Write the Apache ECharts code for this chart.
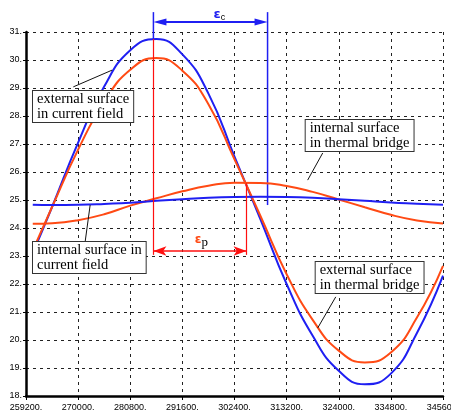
<!DOCTYPE html>
<html>
<head>
    <meta charset="utf-8">
    <script src="https://cdn.jsdelivr.net/npm/echarts@6/dist/echarts.min.js"></script>
</head>
<body style="margin: 0; background: #fff">
    <div id="main" style="width: 451px; height: 417px"></div>
    <script>
        // time in seconds, read at half-tick steps
        var timeSec = [260600, 264600, 270000, 275400, 280800, 286200, 291600, 297000, 302400,
            307800, 313200, 318600, 324000, 329400, 334800, 340200, 345600];
        var extCurrent = [23.1, 24.75, 27.05, 29.05, 30.35, 30.75, 30.2, 28.8, 26.55,
            24.3, 22.0, 20.15, 18.9, 18.42, 18.8, 20.25, 22.3];
        var extBridge = [23.2, 24.75, 26.8, 28.5, 29.65, 30.07, 29.62, 28.42, 26.45,
            24.42, 22.35, 20.72, 19.62, 19.2, 19.55, 20.8, 22.65];
        var intBridge = [24.15, 24.17, 24.28, 24.49, 24.8, 25.06, 25.31, 25.51, 25.62,
            25.61, 25.5, 25.29, 25.02, 24.74, 24.47, 24.27, 24.16];
        var intCurrent = [24.83, 24.82, 24.83, 24.86, 24.9, 24.97, 25.03, 25.08, 25.11,
            25.12, 25.11, 25.08, 25.03, 24.97, 24.91, 24.87, 24.83];

        var xTicks = { min: 259200, max: 345600, step: 10800 };
        var yTicks = { min: 18, max: 31, step: 1 };

        // annotation anchors in data units
        var tMaxExt = 285600, tMaxInt = 304900, tCurrent = 309250;
        var boxes = [
            { at: [260650, 28.89], text: 'external surface\nin current field' },
            { at: [260650, 23.5], text: 'internal surface in\ncurrent field' },
            { at: [317150, 27.86], text: 'internal surface\nin thermal bridge' },
            { at: [319220, 22.79], text: 'external surface\nin thermal bridge' }
        ];
        var leaders = [
            [[269000, 29.04], [277060, 29.64]],
            [[271450, 23.5], [272490, 24.82]],
            [[320680, 26.68], [317560, 25.71]],
            [[323380, 21.54], [319640, 20.43]]
        ];

        var BLUE = '#1f1ff2', ORANGE = '#ff4a14', RED = '#ff1010';

        function pairs(ys) {
            return timeSec.map(function (t, i) { return [t, ys[i]]; });
        }
        function seg(a, b, color, width, arrows) {
            return [
                { coord: a, symbol: arrows ? 'arrow' : 'none', lineStyle: { color: color, width: width, type: 'solid' } },
                { coord: b, symbol: arrows ? 'arrow' : 'none' }
            ];
        }

        var chart = echarts.init(document.getElementById('main'));
        var option = {
            animation: false,
            grid: { left: 26, right: 8, top: 32, bottom: 21, containLabel: false, outerBoundsMode: 'none' },
            xAxis: {
                type: 'value', min: xTicks.min, max: xTicks.max, interval: xTicks.step,
                axisLine: { onZero: false, lineStyle: { color: '#000', width: 2.5 } },
                axisTick: { length: 4, lineStyle: { color: '#000' } },
                axisLabel: { formatter: function (v) { return v + '.'; }, fontSize: 9, color: '#000', margin: 7,
                    fontFamily: 'Liberation Sans', showMaxLabel: true, alignMaxLabel: 'center', alignMinLabel: 'center' },
                splitLine: { lineStyle: { color: '#222', type: [3, 4], width: 1 } }
            },
            yAxis: {
                type: 'value', min: yTicks.min, max: yTicks.max, interval: yTicks.step,
                axisLine: { show: true, lineStyle: { color: '#000', width: 2.5 } },
                axisTick: { show: true, length: 3, lineStyle: { color: '#000' } },
                axisLabel: { formatter: function (v) { return v + '.'; }, fontSize: 9, color: '#000', margin: 4,
                    fontFamily: 'Liberation Sans' },
                splitLine: { lineStyle: { color: '#222', type: [3, 4], width: 1 } }
            },
            series: [
                {
                    name: 'external surface in current field', type: 'line', smooth: true, clip: false,
                    showSymbol: false, data: pairs(extCurrent), lineStyle: { color: BLUE, width: 2 }
                },
                {
                    name: 'external surface in thermal bridge', type: 'line', smooth: true, clip: false,
                    showSymbol: false, data: pairs(extBridge), lineStyle: { color: ORANGE, width: 2 },
                    markLine: {
                        silent: true, symbolSize: [7, 13], label: { show: false },
                        data: [
                            seg([tMaxExt, 30.75], [tMaxExt, 23.04], RED, 1.2, false),
                            seg([tMaxInt, 25.6], [tMaxInt, 23.04], RED, 1.2, false),
                            seg([tMaxExt, 23.18], [tMaxInt, 23.18], RED, 1.5, true)
                        ]
                    },
                    markPoint: {
                        silent: true, symbolSize: 0,
                        data: [{
                            coord: [295550, 23.56],
                            label: {
                                show: true, position: [0, 0], align: 'center', verticalAlign: 'middle',
                                backgroundColor: '#fff', padding: [0, 2],
                                formatter: '{e|ε}{s|p}',
                                rich: {
                                    e: { fontSize: 12, fontWeight: 'bold', color: ORANGE, fontFamily: 'DejaVu Sans' },
                                    s: { fontSize: 13, color: '#000', fontFamily: 'Liberation Serif', padding: [4, 0, 0, 0] }
                                }
                            }
                        }]
                    }
                },
                {
                    name: 'internal surface in thermal bridge', type: 'line', smooth: true, clip: false,
                    showSymbol: false, data: pairs(intBridge), lineStyle: { color: ORANGE, width: 2 }
                },
                {
                    name: 'internal surface in current field', type: 'line', smooth: true, clip: false,
                    showSymbol: false, data: pairs(intCurrent), lineStyle: { color: BLUE, width: 2 },
                    markLine: {
                        silent: true, label: { show: false },
                        data: leaders.map(function (l) { return seg(l[0], l[1], '#111', 1, false); })
                    },
                    markPoint: {
                        silent: true, symbolSize: 0,
                        data: boxes.map(function (b) {
                            return {
                                coord: b.at,
                                label: {
                                    show: true, position: [0, 0], align: 'left', verticalAlign: 'top',
                                    formatter: b.text, fontFamily: 'Liberation Serif', fontSize: 14.5,
                                    lineHeight: 15, color: '#000', backgroundColor: '#fff',
                                    borderColor: '#333', borderWidth: 1, padding: [1, 4, 0, 4]
                                }
                            };
                        })
                    }
                }
            ]
        };
        chart.setOption(option);

        // the epsilon_c marker sits above the plot area, so place it through the axes by hand
        function toPx(x, y) { return chart.convertToPixel({ gridIndex: 0 }, [x, y]); }
        var yTop = toPx(tMaxExt, 31.71)[1];
        var pA = toPx(tMaxExt, 31.36), pB = toPx(tCurrent, 31.36);
        var pPeak = toPx(tMaxExt, 30.75), pLow = toPx(tCurrent, 24.82);
        var pLab = toPx(299290, 31.62);
        function blueLine(x1, y1, x2, y2, w) {
            return { type: 'line', silent: true, shape: { x1: x1, y1: y1, x2: x2, y2: y2 },
                style: { stroke: BLUE, lineWidth: w } };
        }
        chart.setOption({
            graphic: [
                blueLine(pA[0], yTop, pA[0], pPeak[1], 1.5),
                blueLine(pB[0], yTop, pB[0], pLow[1], 1.5),
                blueLine(pA[0] + 6, pA[1], pB[0] - 6, pB[1], 2),
                { type: 'polygon', silent: true, shape: { points: [[pA[0], pA[1]], [pA[0] + 13, pA[1] - 3.5], [pA[0] + 13, pA[1] + 3.5]] },
                    style: { fill: BLUE } },
                { type: 'polygon', silent: true, shape: { points: [[pB[0], pB[1]], [pB[0] - 13, pB[1] - 3.5], [pB[0] - 13, pB[1] + 3.5]] },
                    style: { fill: BLUE } },
                { type: 'text', silent: true, x: pLab[0], y: pLab[1],
                    style: { text: '{e|ε}{s|c}', align: 'center', verticalAlign: 'middle',
                        rich: {
                            e: { fontSize: 13, fontWeight: 'bold', fill: BLUE, fontFamily: 'DejaVu Sans' },
                            s: { fontSize: 9, fill: '#000', fontFamily: 'Liberation Sans', padding: [6, 0, 0, 0] }
                        } } }
            ]
        });
    </script>
</body>
</html>
